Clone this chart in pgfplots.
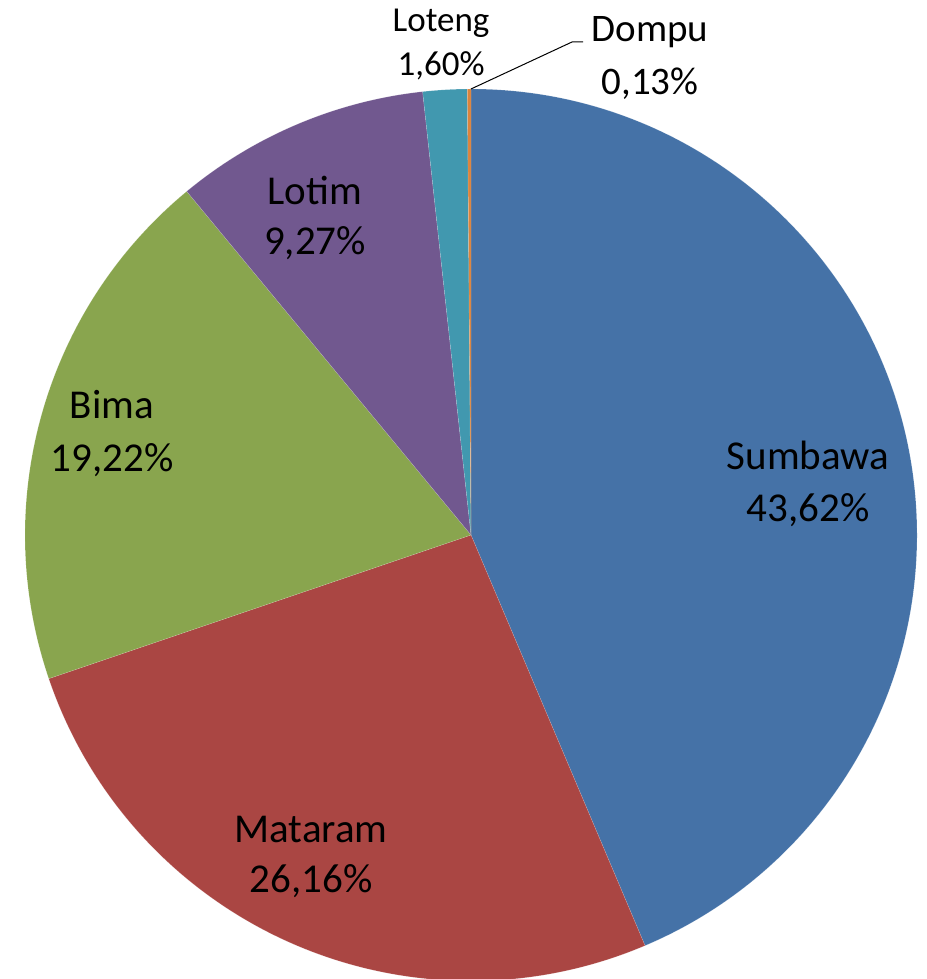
\documentclass[border=0pt]{standalone}
\usepackage{pgfplots}
\pgfplotsset{compat=1.18}
\usepackage{pgfplotstable}
\usepackage{fontspec}
\setmainfont{Carlito}

\definecolor{csumbawa}{HTML}{4572A7}
\definecolor{cmataram}{HTML}{AA4643}
\definecolor{cbima}{HTML}{89A54E}
\definecolor{clotim}{HTML}{71588F}
\definecolor{cloteng}{HTML}{4198AF}
\definecolor{cdompu}{HTML}{DB843D}

% share in percent, slice colour, label position (x, baselines of both lines), font size
\pgfplotstableread[col sep=comma]{
name,value,color,lx,ly,lyy,fs
Sumbawa,43.62,csumbawa,808,509,457,41
Mataram,26.16,cmataram,311,136,86,41
Bima,19.22,cbima,112,560,507,41
Lotim,9.27,clotim,315,774,724,41
Loteng,1.60,cloteng,441,947,903,35
Dompu,0.13,cdompu,650,937,884,39
}\piedata

\begin{document}
\begin{tikzpicture}
\begin{axis}[
    width=926pt, height=979pt,
    scale only axis,
    xmin=0, xmax=926,
    ymin=0, ymax=979,
    hide axis,
]
    % slices, clockwise from the top
    \pgfplotsextra{%
        \gdef\angstart{90}%
        \pgfplotstablegetrowsof{\piedata}%
        \pgfmathtruncatemacro\nrows{\pgfplotsretval-1}%
        \foreach \i in {0,...,\nrows}{%
            \pgfplotstablegetelem{\i}{value}\of\piedata \let\val\pgfplotsretval
            \pgfplotstablegetelem{\i}{color}\of\piedata \let\col\pgfplotsretval
            \pgfmathsetmacro\angend{\angstart-3.6*\val}%
            \fill[fill=\col, draw=white, draw opacity=0.25, line width=0.4pt]
                (axis cs:471,444) -- ++(\angstart:446pt)
                arc[start angle=\angstart, end angle=\angend, radius=446pt] -- cycle;
            \xdef\angstart{\angend}%
        }%
    }

    % leader line for Dompu
    \addplot[black, line width=1pt] coordinates {(471,890) (572,937) (583,937)};

    % data labels
    \pgfplotsextra{%
        \pgfplotstablegetrowsof{\piedata}%
        \pgfmathtruncatemacro\nrows{\pgfplotsretval-1}%
        \foreach \i in {0,...,\nrows}{%
            \pgfplotstablegetelem{\i}{name}\of\piedata \let\nm\pgfplotsretval
            \pgfplotstablegetelem{\i}{value}\of\piedata \let\val\pgfplotsretval
            \pgfplotstablegetelem{\i}{lx}\of\piedata \let\lx\pgfplotsretval
            \pgfplotstablegetelem{\i}{ly}\of\piedata \let\ly\pgfplotsretval
            \pgfplotstablegetelem{\i}{lyy}\of\piedata \let\lyy\pgfplotsretval
            \pgfplotstablegetelem{\i}{fs}\of\piedata \let\fs\pgfplotsretval
            \node[anchor=base, inner sep=0pt, font=\fontsize{\fs}{\fs}\selectfont]
                at (axis cs:\lx,\ly) {\nm};
            \node[anchor=base, inner sep=0pt, font=\fontsize{\fs}{\fs}\selectfont]
                at (axis cs:\lx,\lyy) {\pgfmathprintnumber[fixed, fixed zerofill, precision=2, use comma, assume math mode=true]{\val}\%};
        }%
    }
\end{axis}
\pgfresetboundingbox
\path[use as bounding box] (current axis.south west) rectangle (current axis.north east);
\end{tikzpicture}
\end{document}
